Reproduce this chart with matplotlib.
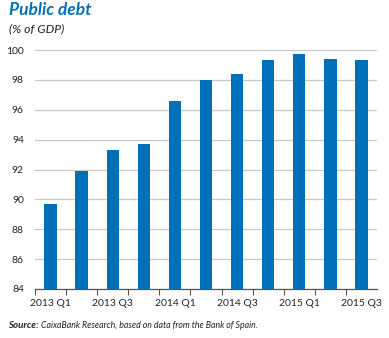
import matplotlib.pyplot as plt

quarters = ['2013 Q1', '2013 Q2', '2013 Q3', '2013 Q4', '2014 Q1', '2014 Q2',
            '2014 Q3', '2014 Q4', '2015 Q1', '2015 Q2', '2015 Q3']
debt = [89.7, 91.9, 93.3, 93.7, 96.6, 98.0, 98.4, 99.3, 99.7, 99.4, 99.3]

blue = '#0070b8'
plt.rcParams['font.family'] = ['Lato', 'DejaVu Sans']

fig = plt.figure(figsize=(3.89, 3.38), dpi=100)
ax = fig.add_axes([35 / 389, 1 - 289 / 338, 342 / 389, 239 / 338])

x = range(len(debt))
ax.bar(x, debt, width=0.4, color=blue, zorder=3)
ax.set_ylim(84, 100)
ax.set_xlim(-0.5, len(debt) - 0.5)
ax.set_yticks(range(84, 101, 2))
ax.yaxis.grid(True, color='#c8c8c8', linewidth=0.9, zorder=0)
ax.tick_params(axis='y', length=0, labelsize=7.5, pad=8, colors='#222222')

ax.set_xticks([i for i in x][::2])
ax.set_xticklabels(quarters[::2])
ax.set_xticks([i - 0.5 for i in x], minor=True)
ax.tick_params(axis='x', which='major', length=0, labelsize=7.5, pad=7, colors='#222222')
ax.tick_params(axis='x', which='minor', length=4, width=0.8, color='#555555')

for s in ['top', 'right', 'left']:
    ax.spines[s].set_visible(False)
ax.spines['bottom'].set_color('#555555')
ax.spines['bottom'].set_linewidth(0.9)

fig.text(9 / 389, 1 - 10 / 338, 'Public debt', color=blue, fontsize=12.5,
         fontweight='bold', fontstyle='italic', va='center')
fig.text(9 / 389, 1 - 29 / 338, '(% of GDP)', color='#222222', fontsize=8.8,
         fontstyle='italic', va='center')
fig.text(8 / 389, 1 - 325 / 338, 'Source:', color='#222222', fontsize=7,
         fontweight='bold', fontstyle='italic', va='center')
fig.text(41 / 389, 1 - 325 / 338, 'CaixaBank Research, based on data from the Bank of Spain.',
         color='#222222', fontsize=6.3, fontstyle='italic', va='center')

fig.savefig('out.png', dpi=100)
